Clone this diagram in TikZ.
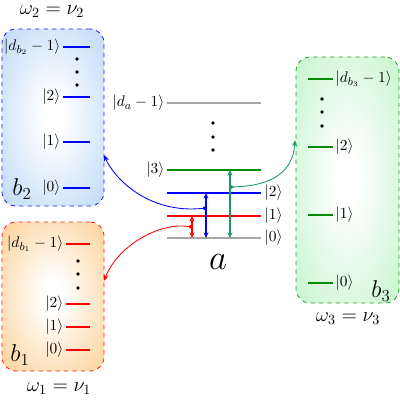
\documentclass[tikz,border=0pt]{standalone}
\usepackage{amsmath,amssymb}
\usepackage{xcolor}
\usetikzlibrary{arrows.meta}

\definecolor{bshade}{RGB}{185,215,247}
\definecolor{oshade}{RGB}{252,206,144}
\definecolor{gshade}{RGB}{194,244,202}
\definecolor{lvlgreen}{RGB}{0,140,0}
\definecolor{teal3}{RGB}{30,150,100}
\pgfdeclareradialshading{bglow}{\pgfpoint{0bp}{0bp}}{color(0bp)=(white); color(5bp)=(white); color(38bp)=(bshade); color(50bp)=(bshade)}
\pgfdeclareradialshading{oglow}{\pgfpoint{0bp}{0bp}}{color(0bp)=(white); color(5bp)=(white); color(38bp)=(oshade); color(50bp)=(oshade)}
\pgfdeclareradialshading{gglow}{\pgfpoint{0bp}{0bp}}{color(0bp)=(white); color(5bp)=(white); color(38bp)=(gshade); color(50bp)=(gshade)}

\begin{document}
\begin{tikzpicture}[x=0.25mm,y=-0.25mm,
  ket/.style={font=\fontsize{11}{13}\selectfont, inner sep=1pt},
  lvl/.style={line width=1.4pt},
  box/.style={draw, dashed, line width=0.6pt, rounded corners=3.5mm},
  dot/.style={circle, fill=black, inner sep=0pt, minimum size=2.8pt},
  tr/.style={{Stealth[length=4pt,width=3.5pt]}-{Stealth[length=4pt,width=3.5pt]}, line width=0.9pt},
  link/.style={{Circle[length=2.5pt]}-{Stealth[length=4.5pt,width=3.5pt]}, line width=0.6pt},
  freq/.style={font=\Large, inner sep=0pt}]
\useasboundingbox (0,0) rectangle (400,400);

% baths %
\node[box, draw=blue!90, shading=bglow, minimum width=25.5mm, minimum height=44.25mm] (B2) at (53,117.5) {};
\node[box, draw=red!90, shading=oglow, minimum width=25.5mm, minimum height=37.25mm] (B1) at (53,296.5) {};
\node[box, draw=lvlgreen!85, shading=gglow, minimum width=25.75mm, minimum height=61.5mm] (B3) at (347.5,180) {};

% levels of b2 %
\foreach \y/\t [count=\i] in {47/{|d_{b_2}-1\rangle}, 97/{|2\rangle}, 142/{|1\rangle}, 188/{|0\rangle}}{
  \draw[lvl, blue] (63,\y) -- (90,\y);
  \node[ket, anchor=east] (kb2\i) at (62,\y) {$\t$};
}
\foreach \y [count=\i] in {59,72,85} \node[dot] (db2\i) at (77,\y) {};

% levels of b1 %
\foreach \y/\t [count=\i] in {244/{|d_{b_1}-1\rangle}, 304/{|2\rangle}, 327/{|1\rangle}, 350/{|0\rangle}}{
  \draw[lvl, red] (66,\y) -- (90,\y);
  \node[ket, anchor=east] (kb1\i) at (65,\y) {$\t$};
}
\foreach \y [count=\i] in {261,274,288} \node[dot] (db1\i) at (78,\y) {};

% levels of b3 %
\foreach \y/\t [count=\i] in {79/{|d_{b_3}-1\rangle}, 147/{|2\rangle}, 215/{|1\rangle}, 283/{|0\rangle}}{
  \draw[lvl, lvlgreen] (308,\y) -- (333,\y);
  \node[ket, anchor=west] (kb3\i) at (334,\y) {$\t$};
}
\foreach \y [count=\i] in {99,112,126} \node[dot] (db3\i) at (322,\y) {};

% system a %
\draw[lvl, gray!70] (167,103) -- (261,103);
\draw[lvl, lvlgreen] (167,170) -- (261,170);
\draw[lvl, blue] (167,193) -- (261,193);
\draw[lvl, red] (167,216) -- (261,216);
\draw[lvl, gray!70] (167,238) -- (261,238);
\node[ket, anchor=east] (ka4) at (166,103) {$|d_a-1\rangle$};
\node[ket, anchor=east] (ka3) at (166,170) {$|3\rangle$};
\node[ket, anchor=west] (ka2) at (263,193) {$|2\rangle$};
\node[ket, anchor=west] (ka1) at (263,216) {$|1\rangle$};
\node[ket, anchor=west] (ka0) at (263,238) {$|0\rangle$};
\foreach \y [count=\i] in {123,137,150} \node[dot] (da\i) at (213,\y) {};

% transitions %
\coordinate (r1) at (192,216);
\coordinate (r0) at (192,238);
\coordinate (u2) at (206,193);
\coordinate (u0) at (206,238);
\coordinate (g3) at (230,170);
\coordinate (g0) at (230,238);
\draw[tr, red] (r1) -- (r0);
\draw[tr, blue] (u2) -- (u0);
\draw[tr, teal3] (g3) -- (g0);

% couplings to the baths %
\coordinate (rm) at (192,227);
\coordinate (um) at (206,208);
\coordinate (gm) at (230,187);
\coordinate (b1in) at (104,281);
\coordinate (b2in) at (104,155);
\coordinate (b3in) at (295,140);
\draw[link, red] (rm) .. controls (160,222) and (118,245) .. (b1in);
\draw[link, blue] (um) .. controls (150,214) and (115,180) .. (b2in);
\draw[link, teal3] (gm) .. controls (272,186) and (293,172) .. (b3in);

% labels %
\node[font=\LARGE] (lb2) at (22,189) {$b_2$};
\node[font=\LARGE] (lb1) at (20,355) {$b_1$};
\node[font=\LARGE] (lb3) at (381,291) {$b_3$};
\node[font=\fontsize{24}{28}\selectfont] (la) at (218,262) {$a$};
\node[freq] (w2) at (52,12) {$\omega_2=\nu_2$};
\node[freq] (w1) at (59,389) {$\omega_1=\nu_1$};
\node[freq] (w3) at (348,319) {$\omega_3=\nu_3$};
\end{tikzpicture}
\end{document}
